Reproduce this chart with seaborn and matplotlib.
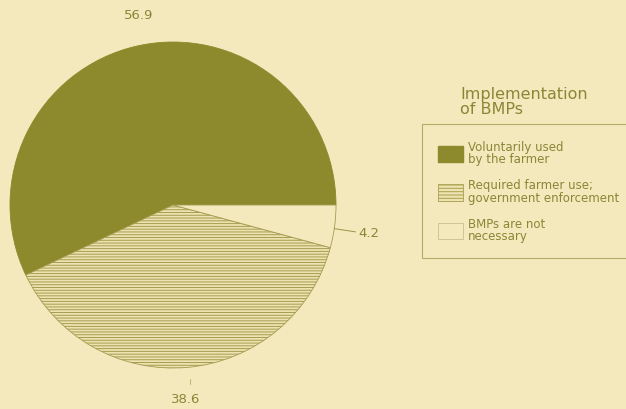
import matplotlib
matplotlib.use("Agg")
import matplotlib.pyplot as plt
import seaborn as sns
from matplotlib.patches import Patch

categories = ["Voluntarily used\nby the farmer",
              "Required farmer use;\ngovernment enforcement",
              "BMPs are not\nnecessary"]
values = [56.9, 38.6, 4.2]
value_labels = ["56.9", "38.6", "4.2"]

BG = "#f3e9bd"
OLIVE = "#8c8a2c"
TEXT = "#8a8636"

sns.set_theme(style="white")
plt.rcParams["font.family"] = ["DejaVu Sans"]
plt.rcParams["hatch.linewidth"] = 0.7
plt.rcParams["hatch.color"] = "#a9a04e"

fig = plt.figure(figsize=(6.26, 4.10), dpi=100)
fig.patch.set_facecolor(BG)

# pie axes placed where the circle sits in the picture
ax = fig.add_axes([10 / 626, (410 - 369) / 410, 326 / 626, 326 / 410])
ax.set_facecolor(BG)

wedges, _ = ax.pie(values, startangle=0, counterclock=True,
                   colors=[OLIVE, "#ede3b0", BG],
                   wedgeprops=dict(linewidth=0.6, edgecolor="#a49c50"))
wedges[0].set_edgecolor(OLIVE)
wedges[1].set_hatch("------")
ax.set_xlim(-1, 1)
ax.set_ylim(-1, 1)
ax.set_aspect("equal")
ax.axis("off")

# value labels
ax.text(-0.21, 1.17, value_labels[0], ha="center", va="center",
        fontsize=9.5, color=TEXT, clip_on=False)
ax.text(0.08, -1.19, value_labels[1], ha="center", va="center",
        fontsize=9.5, color=TEXT, clip_on=False)
ax.plot([0.105, 0.105], [-1.07, -1.1], color="#b0a860", lw=0.6, clip_on=False)
ax.text(1.14, -0.17, value_labels[2], ha="left", va="center",
        fontsize=9.5, color=TEXT, clip_on=False)
ax.plot([0.99, 1.12], [-0.145, -0.165], color="#9a9448", lw=0.7, clip_on=False)

# legend
handles = [Patch(facecolor=OLIVE, edgecolor=OLIVE),
           Patch(facecolor="#ede3b0", edgecolor="#a9a04e", hatch="-----", lw=0.6),
           Patch(facecolor=BG, edgecolor="#c8c090", lw=0.6)]
fig.text(460 / 626, 1 - 102 / 410, "Implementation\nof BMPs", ha="left", va="center",
         fontsize=11.5, color=TEXT, linespacing=0.95)
leg = fig.legend(handles, categories, loc="upper left",
                 bbox_to_anchor=(422 / 626, 1 - 125 / 410),
                 fontsize=8.5, frameon=True, fancybox=False,
                 facecolor=BG, edgecolor="#a49c50", labelcolor=TEXT,
                 handlelength=2.1, handleheight=1.8, labelspacing=1.1,
                 borderpad=1.35, handletextpad=0.45, borderaxespad=0)
leg.get_frame().set_linewidth(0.8)
for t in leg.get_texts():
    t.set_linespacing(0.95)

fig.savefig("out.png", dpi=100, facecolor=BG)
